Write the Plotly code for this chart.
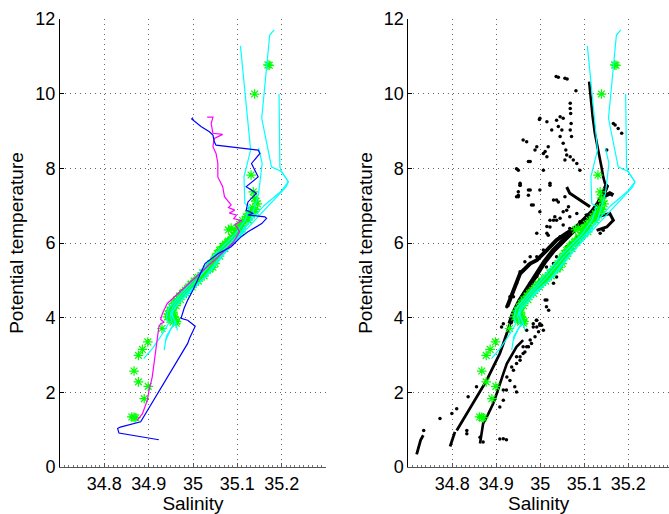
import plotly.graph_objects as go

# ---------------- data ----------------
blue_sal = [34.923, 34.833, 34.830, 34.836, 34.882, 34.98, 34.988, 34.992, 34.999, 35.005, 34.988, 34.973,
            34.98, 34.988, 35.0, 35.027, 35.057, 35.086, 35.109, 35.124, 35.155, 35.166, 35.162, 35.124,
            35.136, 35.12, 35.124, 35.143, 35.12, 35.147, 35.132, 35.151, 35.147, 35.052, 35.048, 35.045,
            35.037, 35.018, 34.997, 35.0]
blue_th = [0.73, 0.91, 1.03, 1.07, 1.21, 3.13, 3.31, 3.44, 3.62, 3.77, 3.93, 3.98,
           4.25, 4.47, 4.74, 5.45, 5.72, 5.9, 6.17, 6.3, 6.52, 6.66, 6.70, 6.75,
           6.79, 6.88, 7.1, 7.33, 7.51, 7.77, 8.13, 8.4, 8.49, 8.62, 8.71, 8.89,
           8.98, 9.12, 9.32, 9.36]

mag_sal = [34.874, 34.886, 34.897, 34.901, 34.908, 34.912, 34.916, 34.92, 34.923, 34.927, 34.935, 34.927,
           34.931, 34.942, 34.989, 35.049, 35.09, 35.105, 35.095, 35.11, 35.092, 35.098, 35.082, 35.094,
           35.08, 35.086, 35.071, 35.067, 35.056, 35.056, 35.052, 35.045, 35.048, 35.067, 35.045, 35.041,
           35.045, 35.032]
mag_th = [1.25, 1.43, 1.79, 2.06, 2.41, 2.77, 3.22, 3.58, 3.75, 3.84, 3.88, 3.95,
          4.11, 4.38, 4.9, 5.54, 6.0, 6.3, 6.5, 6.6, 6.65, 6.75, 6.8, 6.88,
          6.95, 7.02, 7.24, 7.51, 7.77, 8.13, 8.4, 8.58, 8.8, 8.91, 8.94, 9.2,
          9.37, 9.37]

cyan1_sal = [34.889, 34.91, 34.93, 34.945, 34.94, 34.945, 34.97, 35.004, 35.05, 35.095, 35.117, 35.128, 35.117, 35.115, 35.13, 35.107]
cyan1_th = [2.9, 3.2, 3.55, 3.85, 4.0, 4.25, 4.6, 5.05, 5.7, 6.24, 6.6, 6.97, 7.06, 7.77, 8.49, 11.28]
cyan2_sal = [34.935, 34.94, 34.955, 34.948, 34.955, 34.98, 35.012, 35.055, 35.1, 35.13, 35.16, 35.2, 35.215, 35.2, 35.177, 35.155, 35.173, 35.183]
cyan2_th = [3.13, 3.5, 3.8, 4.05, 4.3, 4.65, 5.05, 5.65, 6.2, 6.6, 7.0, 7.4, 7.64, 7.91, 8.04, 9.34, 11.57, 11.71]
cyan3_sal = [34.939, 34.95, 34.96, 34.953, 34.96, 34.985, 35.02, 35.06, 35.1, 35.135, 35.17, 35.21, 35.215, 35.2, 35.196, 35.194]
cyan3_th = [3.4, 3.7, 3.85, 4.1, 4.3, 4.6, 5.0, 5.6, 6.1, 6.55, 7.0, 7.5, 7.64, 7.9, 8.04, 9.99]
cyan4_sal = [34.965, 34.96, 34.95, 34.965, 34.99, 35.03, 35.07, 35.105, 35.13, 35.143, 35.148, 35.156, 35.148]
cyan4_th = [3.66, 3.9, 4.1, 4.35, 4.7, 5.1, 5.7, 6.2, 6.6, 7.1, 7.33, 8.13, 8.55]
cyan_sal = [cyan1_sal, cyan2_sal, cyan3_sal, cyan4_sal]
cyan_th = [cyan1_th, cyan2_th, cyan3_th, cyan4_th]

green_sal = [35.169, 35.172, 35.139, 35.131, 35.136, 35.139, 35.142, 35.145,
             35.135, 35.13, 35.125, 35.12, 35.112, 35.105, 35.1, 35.095, 35.108, 35.1, 35.092, 35.09,
             35.08, 35.073, 35.067, 35.06, 35.055, 35.05, 35.048, 35.042, 35.04, 35.033, 35.025, 35.018,
             35.01, 35.003, 34.996, 34.99, 34.983, 34.976, 34.97, 34.963, 34.957, 34.952, 34.948, 34.944,
             34.942, 34.948, 34.955, 34.952, 34.958, 35.086, 35.08, 35.045,
             35.14, 35.132, 35.122, 35.112, 35.106, 35.098, 35.088, 35.078, 35.07, 35.062, 35.057,
             35.05, 35.04, 35.03, 35.022, 35.012, 35.004, 34.995, 34.987, 34.979, 34.971, 34.963, 34.957,
             34.95, 34.955, 34.96, 34.962,
             35.14, 35.125, 35.108, 35.095, 35.083, 35.072, 35.06, 35.05, 35.038, 35.025, 35.012,
             34.998, 34.985, 34.972, 34.962, 34.955, 34.958, 34.963,
             34.93, 34.898, 34.886, 34.877, 34.867, 34.877, 34.899, 34.89, 34.862, 34.871, 34.867]
green_th = [10.77, 10.76, 9.99, 7.82, 7.37, 7.2, 7.12, 7.05,
            6.95, 6.85, 6.78, 6.7, 6.6, 6.5, 6.4, 6.35, 6.3, 6.25, 6.2, 6.12,
            6.05, 5.97, 5.9, 5.8, 5.72, 5.62, 5.52, 5.45, 5.36, 5.28, 5.2, 5.12,
            5.05, 4.97, 4.9, 4.82, 4.73, 4.65, 4.57, 4.48, 4.38, 4.28, 4.18, 4.1,
            4.02, 3.95, 3.88, 4.05, 4.0, 6.4, 6.35, 5.35,
            6.9, 6.75, 6.62, 6.48, 6.38, 6.28, 6.16, 6.02, 5.92, 5.82, 5.7,
            5.58, 5.44, 5.3, 5.2, 5.08, 4.98, 4.88, 4.78, 4.68, 4.58, 4.45, 4.33,
            4.2, 4.12, 3.95, 3.85,
            6.85, 6.62, 6.38, 6.2, 6.02, 5.85, 5.65, 5.45, 5.3, 5.12, 4.98,
            4.82, 4.65, 4.48, 4.32, 4.15, 3.95, 3.9,
            3.71, 3.35, 3.15, 2.99, 2.57, 2.28, 2.16, 1.83, 1.34, 1.32, 1.33]

# dense black streaks (right panel)
s1_sal = [34.719, 34.723, 34.728, 34.734]
s1_th = [0.34, 0.54, 0.72, 0.85]
s2a_sal = [34.795, 34.8, 34.806]
s2a_th = [0.55, 0.72, 0.94]
s2_sal = [34.81, 34.833, 34.855, 34.878, 34.893, 34.908, 34.916, 34.924, 34.931, 34.939]
s2_th = [0.98, 1.43, 1.88, 2.32, 2.68, 3.04, 3.31, 3.58, 3.84, 4.11]
s2u_sal = [34.931, 34.939, 34.954, 34.969, 34.984, 34.995, 35.01, 35.03, 35.052, 35.075, 35.098, 35.117,
           35.132, 35.143, 35.151]
s2u_th = [3.84, 4.11, 4.47, 4.74, 5.0, 5.25, 5.5, 5.8, 6.05, 6.3, 6.58, 6.82, 7.06, 7.3, 7.55]
s3_sal = [35.111, 35.113, 35.114, 35.119, 35.124, 35.132, 35.139, 35.143, 35.147, 35.154]
s3_th = [10.32, 10.1, 9.83, 9.38, 8.94, 8.49, 8.04, 7.77, 7.6, 7.51]
s4_sal = [34.863, 34.867, 34.87, 34.882, 34.893, 34.901, 34.908, 34.916, 34.924, 34.939, 34.946, 34.961]
s4_th = [0.63, 0.9, 1.16, 1.43, 1.7, 1.97, 2.24, 2.5, 2.77, 3.08, 3.22, 3.4]
b1_sal = [34.925, 34.939, 34.954, 34.977, 34.992, 35.015, 35.037, 35.06, 35.083, 35.102, 35.12, 35.136, 35.143, 35.158, 35.166]
b1_th = [4.3, 4.74, 5.18, 5.45, 5.54, 5.81, 6.08, 6.26, 6.43, 6.61, 6.84, 7.06, 7.24, 7.33, 7.28]
b2_sal = [35.06, 35.067, 35.09, 35.113]
b2_th = [7.5, 7.33, 7.15, 6.97]
b3_sal = [35.128, 35.158, 35.166, 35.151, 35.128]
b3_th = [6.7, 6.79, 6.61, 6.43, 6.34]
streaks_sal = [s1_sal, s2a_sal, s2_sal, s2u_sal, s3_sal, s4_sal, b1_sal, b2_sal, b3_sal]
streaks_th = [s1_th, s2a_th, s2_th, s2u_th, s3_th, s4_th, b1_th, b2_th, b3_th]
streak_w = [2.8, 2.8, 2.8, 5.0, 2.6, 2.6, 4.0, 3.0, 3.0]

# scattered black dots (right panel)
dots_sal = [35.036, 35.041, 35.056, 35.061, 35.081, 35.068, 35.069, 35.068, 35.071, 35.068, 35.07,
            35.045, 35.052, 35.037, 35.041, 35.049, 35.045, 35.052, 35.058, 35.06, 35.068, 35.075, 35.056, 35.083, 35.09,
            34.998, 35.015, 35.026, 34.961, 34.969, 34.988, 35.007, 35.015, 34.977, 35.007, 34.946, 34.954, 34.977,
            34.973, 34.95, 35.022, 35.037, 35.056, 35.064, 35.052, 35.045, 34.984, 35.015, 34.992, 35.022, 35.033, 35.018,
            35.166, 35.177, 35.185, 35.151, 35.17,
            34.999, 34.992, 35.011, 34.95, 34.973, 34.954, 34.95, 34.999, 35.03,
            34.946, 34.95, 34.98, 34.973, 34.954, 34.999, 35.022, 35.041, 35.018, 35.03,
            34.772, 34.799, 34.81, 34.836, 34.855, 34.833, 34.833, 34.916, 34.923, 34.908, 34.863, 34.87, 34.735,
            34.908, 34.916, 34.923, 34.942, 34.946, 34.931, 34.939, 34.946, 34.954, 34.965, 34.973, 34.98, 34.988,
            34.992, 34.984, 34.969,
            34.991, 34.999, 35.015, 35.019, 34.999, 35.037, 35.143, 35.136,
            34.984, 35.003, 35.007, 34.992, 35.014, 35.011, 34.961, 34.946, 34.935, 34.924, 34.916,
            34.965, 34.977, 34.954, 34.931, 34.924, 34.916, 34.912, 35.015, 35.037, 35.06,
            34.939, 34.946, 34.961, 34.973, 34.992, 35.007, 35.026, 35.045, 35.067, 35.09, 35.105, 35.052,
            35.067, 35.083, 35.022,
            34.977, 34.992, 35.014, 35.037, 35.06, 35.083,
            35.022, 35.03, 35.03, 35.068, 35.083,
            34.999, 34.996, 34.977, 34.969, 34.954, 34.961]
dots_th = [10.46, 10.44, 10.41, 10.39, 10.08, 9.74, 9.47, 9.03, 8.85, 9.6, 9.2,
           9.38, 9.34, 9.29, 9.12, 9.03, 8.85, 8.67, 8.49, 8.36, 8.31, 8.22, 8.22, 8.13, 7.95,
           9.31, 9.25, 9.03, 8.76, 8.71, 8.49, 8.4, 8.31, 8.18, 7.95, 7.99, 7.55, 7.42,
           7.28, 7.28, 7.55, 7.15, 7.24, 6.97, 6.84, 6.66, 7.02, 6.44, 6.26, 6.61, 6.7, 8.58,
           9.2, 9.07, 8.94, 8.49, 9.16,
           9.34, 8.58, 8.45, 7.95, 8.18, 7.6, 7.24, 7.42, 7.15,
           7.24, 7.37, 7.02, 7.42, 7.55, 6.84, 7.6, 7.1, 6.21, 6.61,
           1.30, 1.43, 1.56, 1.88, 2.15, 0.89, 0.98, 0.76, 0.73, 0.75, 0.8, 0.67, 0.98,
           1.61, 1.79, 2.06, 2.15, 2.01, 2.32, 2.59, 2.77, 2.95, 3.08, 3.22, 3.31, 3.49,
           3.75, 3.84, 3.66,
           3.93, 3.8, 4.47, 4.2, 5.0, 5.09, 6.34, 6.26,
           3.75, 3.8, 3.66, 3.93, 4.29, 4.47, 3.22, 2.95, 2.68, 2.41, 2.06,
           5.5, 5.63, 5.23, 4.56, 4.29, 3.84, 3.75, 6.26, 6.61, 6.88,
           4.56, 4.92, 5.27, 5.41, 5.63, 5.81, 5.94, 6.17, 6.39, 6.57, 6.75, 6.48,
           6.70, 6.79, 6.43,
           4.92, 5.1, 5.36, 5.63, 5.9, 6.12,
           5.1, 4.92, 5.45, 5.99, 6.17,
           3.84, 3.62, 3.4, 3.22, 2.86, 3.04]

x_ticks = [34.8, 34.9, 35.0, 35.1, 35.2]
x_labels = ["34.8", "34.9", "35", "35.1", "35.2"]
y_ticks = [0, 2, 4, 6, 8, 10, 12]

# ---------------- figure ----------------
W, H = 669, 514
fig = go.Figure()

GREEN = "#00ff00"
CYAN = "#00ffff"


def add_green(xa, ya):
    fig.add_trace(go.Scatter(x=green_sal, y=green_th, mode="markers", xaxis=xa, yaxis=ya,
                             marker=dict(symbol="asterisk-open", size=8, color=GREEN,
                                         line=dict(color=GREEN, width=1.2)),
                             showlegend=False, hoverinfo="skip"))


def add_cyan(xa, ya):
    for cs, ct in zip(cyan_sal, cyan_th):
        fig.add_trace(go.Scatter(x=cs, y=ct, mode="lines", xaxis=xa, yaxis=ya,
                                 line=dict(color=CYAN, width=1.2),
                                 showlegend=False, hoverinfo="skip"))


# left panel
add_green("x", "y")
add_cyan("x", "y")
fig.add_trace(go.Scatter(x=mag_sal, y=mag_th, mode="lines", line=dict(color="#ff00ff", width=1.2),
                         showlegend=False, hoverinfo="skip"))
fig.add_trace(go.Scatter(x=blue_sal, y=blue_th, mode="lines", line=dict(color="#0000ff", width=1.2),
                         showlegend=False, hoverinfo="skip"))

# right panel
for ss, st, w in zip(streaks_sal, streaks_th, streak_w):
    fig.add_trace(go.Scatter(x=ss, y=st, mode="lines", xaxis="x2", yaxis="y2",
                             line=dict(color="black", width=w),
                             showlegend=False, hoverinfo="skip"))
fig.add_trace(go.Scatter(x=dots_sal, y=dots_th, mode="markers", xaxis="x2", yaxis="y2",
                         marker=dict(color="black", size=3.5),
                         showlegend=False, hoverinfo="skip"))
add_green("x2", "y2")
add_cyan("x2", "y2")

FONT = "Liberation Sans, Arial, Helvetica, sans-serif"
grid = dict(showgrid=True, gridcolor="rgba(0,0,0,0.6)", griddash="1px,4px", gridwidth=1,
            zeroline=False, showline=True, ticks="inside", ticklen=4,
            tickfont=dict(size=18, color="black", family=FONT))

xcommon = dict(grid, tickvals=x_ticks, ticktext=x_labels, linecolor="#555", tickcolor="#555",
               minor=dict(dtick=0.01, ticks="inside", ticklen=2, tickcolor="#777", showgrid=False),
               title=dict(text="Salinity", font=dict(size=19, family=FONT, color="black"), standoff=0))
ycommon = dict(grid, tickvals=y_ticks, range=[0, 12], linecolor="black", tickcolor="black",
               title=dict(text="Potential temperature", font=dict(size=19, family=FONT, color="black"),
                          standoff=6))

x0a, x1a = 60 / W, 326 / W
x0b = 408.3 / W
fig.update_layout(
    width=W, height=H,
    margin=dict(l=0, r=0, t=19, b=47, pad=0),
    paper_bgcolor="white", plot_bgcolor="white",
    font=dict(family=FONT, color="black"),
    xaxis=dict(xcommon, domain=[x0a, x1a], range=[34.7, 35.3], anchor="y"),
    yaxis=dict(ycommon, domain=[0, 1], anchor="x"),
    xaxis2=dict(xcommon, domain=[x0b, 1.0], range=[34.7, 34.7 + (W - 408.3) / 440], anchor="y2"),
    yaxis2=dict(ycommon, domain=[0, 1], anchor="x2"),
    hovermode=False,
)

fig.write_html("out.html", config={"displayModeBar": False},
               post_script="document.body.style.margin='0px';document.body.style.overflow='hidden';")
